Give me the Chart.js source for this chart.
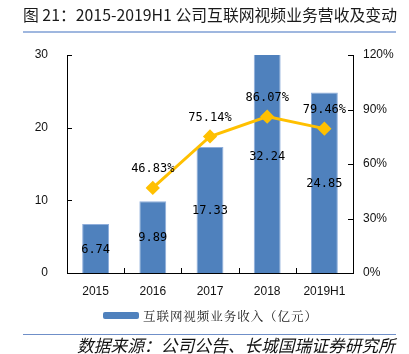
<!DOCTYPE html>
<html>
<head>
<meta charset="utf-8">
<script src="https://cdn.jsdelivr.net/npm/chart.js@4.4.0/dist/chart.umd.min.js"></script>
<style>
html,body{margin:0;padding:0;background:#fff;}
</style>
</head>
<body>
<canvas id="c" width="409" height="354"></canvas>
<script>
const categories = ['2015', '2016', '2017', '2018', '2019H1'];
const revenue = [6.74, 9.89, 17.33, 32.24, 24.85];
const growth = [null, 46.83, 75.14, 86.07, 79.46];
const leftTicks = [0, 10, 20, 30];
const rightTicks = [0, 30, 60, 90, 120];
const titleText = '图 21：2015-2019H1 公司互联网视频业务营收及变动';
const legendText = '互联网视频业务收入（亿元）';
const sourceText = '数据来源：公司公告、长城国瑞证券研究所';

const BAR = '#4F81BD', LINE = '#FFC000';
const CJK = "'Noto Sans CJK SC'";
const SERIF = "'AR PL UMing CN', 'Noto Serif CJK SC', serif";

function spacedText(ctx, text, x0, x1, y) {
  const chars = Array.from(text);
  const widths = chars.map(c => ctx.measureText(c).width);
  const total = widths.reduce((a, b) => a + b, 0);
  const gap = (x1 - x0 - total) / (chars.length - 1);
  let px = x0;
  chars.forEach((c, i) => { ctx.fillText(c, px, y); px += widths[i] + gap; });
}

const deco = {
  id: 'deco',
  afterDraw(chart) {
    const ctx = chart.ctx;
    const x = chart.scales.x, y = chart.scales.y, y1 = chart.scales.y1;
    const ca = chart.chartArea;
    ctx.save();
    ctx.textBaseline = 'middle';
    ctx.textAlign = 'left';
    // title
    ctx.fillStyle = '#1a1a1a';
    ctx.font = "16px " + CJK;
    ctx.fillText(titleText, 23, 15, 374);
    ctx.strokeStyle = '#7F9FD4';
    ctx.lineWidth = 1.5;
    ctx.beginPath(); ctx.moveTo(23, 32); ctx.lineTo(396, 32); ctx.stroke();
    // source
    ctx.strokeStyle = '#6F8FC8';
    ctx.lineWidth = 1;
    ctx.beginPath(); ctx.moveTo(23, 334.5); ctx.lineTo(396, 334.5); ctx.stroke();
    ctx.font = "italic 17px " + CJK;
    ctx.fillStyle = '#111';
    ctx.fillText(sourceText, 77, 346, 318);
    // legend
    ctx.fillStyle = BAR;
    ctx.beginPath();
    if (ctx.roundRect) ctx.roundRect(103, 312, 36, 7, 2); else ctx.rect(103, 312, 36, 7);
    ctx.fill();
    ctx.fillStyle = '#222';
    ctx.font = "12.5px " + SERIF;
    spacedText(ctx, legendText, 143, 317, 316);
    // inner ticks
    ctx.strokeStyle = '#000';
    ctx.lineWidth = 1;
    ctx.beginPath();
    leftTicks.forEach(v => { const py = Math.round(y.getPixelForValue(v)) + 0.5; ctx.moveTo(ca.left, py); ctx.lineTo(ca.left + 5, py); });
    rightTicks.forEach(v => { const py = Math.round(y1.getPixelForValue(v)) + 0.5; ctx.moveTo(ca.right - 5, py); ctx.lineTo(ca.right, py); });
    const n = categories.length;
    const step = (ca.right - ca.left) / n;
    for (let i = 1; i < n; i++) { const px = Math.round(ca.left + step * i) + 0.5; ctx.moveTo(px, ca.bottom); ctx.lineTo(px, ca.bottom - 5); }
    ctx.stroke();
    // data labels
    ctx.fillStyle = '#000';
    ctx.font = "12px 'DejaVu Sans Mono'";
    ctx.textAlign = 'center';
    revenue.forEach((v, i) => {
      const px = x.getPixelForValue(i);
      const top = y.getPixelForValue(v), bot = y.getPixelForValue(0);
      ctx.fillText(v.toFixed(2), px, (top + bot) / 2 + 1);
    });
    growth.forEach((v, i) => {
      if (v === null) return;
      const px = x.getPixelForValue(i);
      const py = y1.getPixelForValue(v);
      ctx.fillText(v.toFixed(2) + '%', px, py - 19);
    });
    ctx.restore();
  }
};

new Chart(document.getElementById('c'), {
  data: {
    labels: categories,
    datasets: [
      {
        type: 'line', label: '增速', data: growth, yAxisID: 'y1',
        borderColor: LINE, backgroundColor: LINE, borderWidth: 3,
        pointStyle: 'rectRot', pointRadius: 5, pointHoverRadius: 5,
        tension: 0, order: 0, spanGaps: false
      },
      {
        type: 'bar', label: legendText, data: revenue, yAxisID: 'y',
        backgroundColor: BAR, borderColor: '#8FAEDB', borderWidth: 1,
        barPercentage: 0.47, categoryPercentage: 1, order: 1
      }
    ]
  },
  options: {
    responsive: false, animation: false,
    layout: { padding: { top: 55, left: 0, right: 0, bottom: 0 } },
    plugins: { legend: { display: false }, tooltip: { enabled: false }, title: { display: false } },
    scales: {
      x: {
        grid: { display: false, drawTicks: false },
        border: { color: '#000', width: 1 },
        ticks: { color: '#111', font: { family: 'Liberation Sans', size: 12 }, padding: 11 },
        afterFit(s) { s.height = 81; }
      },
      y: {
        position: 'left', min: 0, max: 30,
        grid: { display: false, drawTicks: false },
        border: { color: '#000', width: 1 },
        ticks: { stepSize: 10, color: '#111', font: { family: 'Liberation Sans', size: 12 }, padding: 19 },
        afterFit(s) { s.width = 67; }
      },
      y1: {
        position: 'right', min: 0, max: 120,
        grid: { display: false, drawTicks: false },
        border: { color: '#000', width: 1 },
        ticks: { stepSize: 30, color: '#111', font: { family: 'Liberation Sans', size: 12 }, padding: 10,
          callback: v => v + '%' },
        afterFit(s) { s.width = 56; }
      }
    }
  },
  plugins: [deco]
});
</script>
</body>
</html>
